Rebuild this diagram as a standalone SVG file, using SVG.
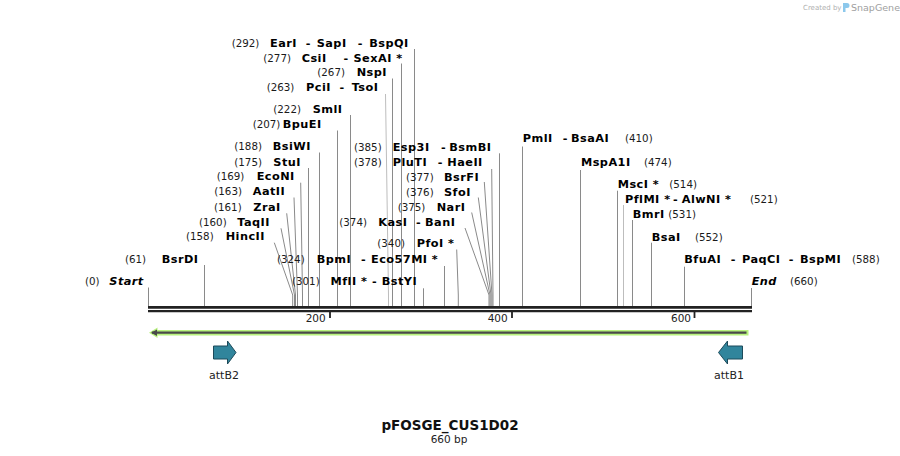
<svg xmlns="http://www.w3.org/2000/svg" width="900" height="456" viewBox="0 0 900 456">
<style>
.num{font-family:"DejaVu Sans",Verdana,sans-serif;font-size:10.3px;fill:#1a1a1a}
.nm{font-family:"DejaVu Sans",Verdana,sans-serif;font-size:11.3px;font-weight:bold;letter-spacing:0.45px;fill:#000}
.it{font-style:italic}
.ln{stroke:#8a8a8a;stroke-width:1;fill:none}
.lt{stroke:#bdbdbd;stroke-width:1;fill:none}
.bb{stroke:#222;fill:none}
.tk{font-family:"DejaVu Sans",Verdana,sans-serif;font-size:10.5px;fill:#222;text-anchor:end}
.ft{font-family:"DejaVu Sans",Verdana,sans-serif;font-size:11px;fill:#222;text-anchor:middle}
.fa{fill:#31859c;stroke:#1d4a5a;stroke-width:1}
</style>
<rect width="900" height="456" fill="#fff"/>
<g id="credit">
<text x="803" y="10" style="font-family:'DejaVu Sans',sans-serif;font-size:7px;fill:#b0b0b0">Created by</text>
<path d="M843 3 h4 a2.5 2.5 0 0 1 0 5 h-1.5 v4 h-2.5 z" fill="#8cc8ec"/>
<text x="851" y="11" style="font-family:'DejaVu Sans',sans-serif;font-size:9.5px;fill:#a0a0a0">SnapGene</text>
</g>
<g id="connectors">
<path class="ln" d="M414.5 49V306"/>
<path class="ln" d="M401.5 63.5V306"/>
<path class="ln" d="M392.5 78.5V306"/>
<path class="lt" d="M385.5 94L388.5 295V306"/>
<path class="ln" d="M350.5 115V306"/>
<path class="ln" d="M337.5 130.5V306"/>
<path class="ln" d="M319.5 152.5V306"/>
<path class="ln" d="M308.5 168V306"/>
<path class="ln" d="M300.7 182.7L302.5 295V306"/>
<path class="ln" d="M294 197.5L297.5 295V306"/>
<path class="ln" d="M286.7 213.3L295.5 295V306"/>
<path class="ln" d="M281 228.3L294.5 295V306"/>
<path class="ln" d="M274.3 242.7L292.7 295V306"/>
<path class="ln" d="M204.5 265V306"/>
<path class="ln" d="M148.5 287.5V306"/>
<path class="ln" d="M444.5 266V306"/>
<path class="ln" d="M423.5 288.3V306"/>
<path class="ln" d="M456.7 249.5L458.3 295V306"/>
<path class="ln" d="M465 228L489 295V306"/>
<path class="ln" d="M471.7 212.5L490 295V306"/>
<path class="ln" d="M478.3 197.5L491 295V306"/>
<path class="ln" d="M484.3 182L492 295V306"/>
<path class="ln" d="M491.7 169L493 295V306"/>
<path class="ln" d="M499.5 153.3V306"/>
<path class="ln" d="M522.5 146.5V306"/>
<path class="ln" d="M580.5 170V306"/>
<path class="ln" d="M617.5 190.7V306"/>
<path class="lt" d="M623.5 205V306"/>
<path class="ln" d="M632.5 220V306"/>
<path class="ln" d="M651.5 242.7V306"/>
<path class="ln" d="M684.5 266.7V306"/>
<path class="ln" d="M751.5 288V306"/>
</g>
<g id="backbone">
<path class="bb" d="M148 307.35H752" stroke-width="2.7"/>
<path class="bb" d="M148 311.15H752" stroke-width="2.3"/>
<path class="bb" d="M330 312V318M512 312V318M694.5 312V318" stroke-width="1.8"/>
<text class="tk" x="325.7" y="322.3">200</text>
<text class="tk" x="507.7" y="322.3">400</text>
<text class="tk" x="691" y="322.3">600</text>
</g>
<g id="orf">
<path d="M149 332.7L157.5 327.5V330H748.5V335.5H157.5V338Z" fill="#b8f27e"/>
<path d="M152 332.7H746.5" stroke="#4a4a4a" stroke-width="2.2"/>
<path d="M151 332.7L157 329.5V336Z" fill="#4a4a4a"/>
</g>
<g id="attB2">
<path class="fa" d="M213.5 346H227.5V341L236 352.5L227.5 364V359H213.5Z"/>
<text class="ft" x="224" y="379">attB2</text>
</g>
<g id="attB1">
<path class="fa" d="M742.5 346H727.5V341L718.5 352.5L727.5 364V359H742.5Z"/>
<text class="ft" x="729" y="379">attB1</text>
</g>
<g id="e292"><text class="num" x="231.7" y="46.5">(292)</text><text class="nm" y="46.5"><tspan x="270">EarI</tspan><tspan x="305.7">-</tspan><tspan x="316.7">SapI</tspan><tspan x="357.7">-</tspan><tspan x="369.3">BspQI</tspan></text></g>
<g id="e277"><text class="num" x="263.3" y="61.5">(277)</text><text class="nm" y="61.5"><tspan x="301.7">CsiI</tspan><tspan x="343.5">-</tspan><tspan x="353.5">SexAI *</tspan></text></g>
<g id="e267"><text class="num" x="317.3" y="76">(267)</text><text class="nm" x="356.7" y="76">NspI</text></g>
<g id="e263"><text class="num" x="266.7" y="90.5">(263)</text><text class="nm" y="90.5"><tspan x="306">PciI</tspan><tspan x="339.5">-</tspan><tspan x="351.7">TsoI</tspan></text></g>
<g id="e222"><text class="num" x="273.3" y="112.7">(222)</text><text class="nm" x="312.7" y="112.7">SmlI</text></g>
<g id="e207"><text class="num" x="252.7" y="128.3">(207)</text><text class="nm" x="282.7" y="128.3">BpuEI</text></g>
<g id="e188"><text class="num" x="234.3" y="150">(188)</text><text class="nm" x="272.7" y="150">BsiWI</text></g>
<g id="e175"><text class="num" x="234.3" y="165.5">(175)</text><text class="nm" x="273.3" y="165.5">StuI</text></g>
<g id="e169"><text class="num" x="216.7" y="180.3">(169)</text><text class="nm" x="256.7" y="180.3">EcoNI</text></g>
<g id="e163"><text class="num" x="214.3" y="195.3">(163)</text><text class="nm" x="252.7" y="195.3">AatII</text></g>
<g id="e161"><text class="num" x="214" y="210.7">(161)</text><text class="nm" x="253.3" y="210.7">ZraI</text></g>
<g id="e160"><text class="num" x="199" y="226">(160)</text><text class="nm" x="237.3" y="226">TaqII</text></g>
<g id="e158"><text class="num" x="186" y="240.3">(158)</text><text class="nm" x="225.7" y="240.3">HincII</text></g>
<g id="e61"><text class="num" x="125" y="262.7">(61)</text><text class="nm" x="161.7" y="262.7">BsrDI</text></g>
<g id="start"><text class="num" x="85" y="285">(0)</text><text class="nm it" x="109.3" y="285">Start</text></g>
<g id="e324"><text class="num" x="277" y="262.5">(324)</text><text class="nm" y="262.5"><tspan x="316.7">BpmI</tspan><tspan x="361">-</tspan><tspan x="371">Eco57MI *</tspan></text></g>
<g id="e301"><text class="num" x="292" y="285">(301)</text><text class="nm" y="285"><tspan x="330.5">MflI *</tspan><tspan x="372">-</tspan><tspan x="381.7">BstYI</tspan></text></g>
<g id="e340"><text class="num" x="377.3" y="247">(340)</text><text class="nm" x="416.7" y="247">PfoI *</text></g>
<g id="e374"><text class="num" x="339.3" y="225.7">(374)</text><text class="nm" y="225.7"><tspan x="378.3">KasI</tspan><tspan x="416">-</tspan><tspan x="425">BanI</tspan></text></g>
<g id="e375"><text class="num" x="397.7" y="211">(375)</text><text class="nm" x="436.7" y="211">NarI</text></g>
<g id="e376"><text class="num" x="406" y="196">(376)</text><text class="nm" x="444" y="196">SfoI</text></g>
<g id="e377"><text class="num" x="406" y="181">(377)</text><text class="nm" x="444" y="181">BsrFI</text></g>
<g id="e378"><text class="num" x="354" y="165.7">(378)</text><text class="nm" y="165.7"><tspan x="392.7">PluTI</tspan><tspan x="437.7">-</tspan><tspan x="447.3">HaeII</tspan></text></g>
<g id="e385"><text class="num" x="354" y="150.7">(385)</text><text class="nm" y="150.7"><tspan x="392.7">Esp3I</tspan><tspan x="441">-</tspan><tspan x="449.3">BsmBI</tspan></text></g>
<g id="e410"><text class="nm" y="142.3"><tspan x="522.7">PmlI</tspan><tspan x="562.7">-</tspan><tspan x="571">BsaAI</tspan></text><text class="num" x="625" y="142.3">(410)</text></g>
<g id="e474"><text class="nm" x="581" y="165.7">MspA1I</text><text class="num" x="644" y="165.7">(474)</text></g>
<g id="e514"><text class="nm" x="617.7" y="188.3">MscI *</text><text class="num" x="669.3" y="188.3">(514)</text></g>
<g id="e521"><text class="nm" y="203.3"><tspan x="625">PflMI *</tspan><tspan x="673">-</tspan><tspan x="681.7">AlwNI *</tspan></text><text class="num" x="750" y="203.3">(521)</text></g>
<g id="e531"><text class="nm" x="632.7" y="218.3">BmrI</text><text class="num" x="668.3" y="218.3">(531)</text></g>
<g id="e552"><text class="nm" x="651.7" y="240.7">BsaI</text><text class="num" x="695" y="240.7">(552)</text></g>
<g id="e588"><text class="nm" y="263.3"><tspan x="684.3">BfuAI</tspan><tspan x="730.7">-</tspan><tspan x="742">PaqCI</tspan><tspan x="788.7">-</tspan><tspan x="800">BspMI</tspan></text><text class="num" x="852" y="263.3">(588)</text></g>
<g id="end"><text class="nm it" x="751.7" y="285">End</text><text class="num" x="790" y="285">(660)</text></g>
<g id="title">
<text x="450" y="430" text-anchor="middle" style="font-family:'DejaVu Sans',Verdana,sans-serif;font-size:13.5px;font-weight:bold;fill:#111">pFOSGE_CUS1D02</text>
<text x="449" y="443" text-anchor="middle" style="font-family:'DejaVu Sans',Verdana,sans-serif;font-size:10.5px;fill:#222">660 bp</text>
</g>
</svg>
